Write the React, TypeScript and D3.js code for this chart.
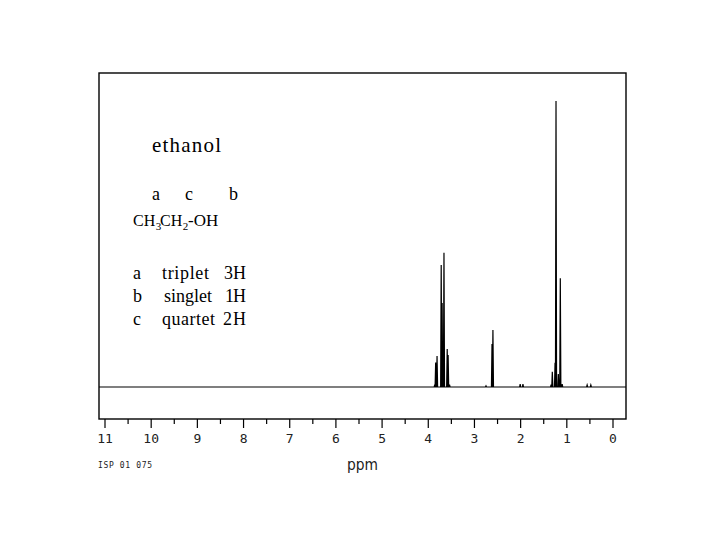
import React from "react";
import * as d3 from "d3";

// Spectrum lines: chemical shift (ppm) and relative intensity (tallest = 100)
const peakPpm = [3.86, 3.84, 3.81, 3.72, 3.70, 3.66, 3.59, 3.57, 3.54, 2.75, 2.62, 2.60, 2.01, 1.95, 1.34, 1.314, 1.255, 1.234, 1.184, 1.141, 1.10, 0.56, 0.48];
const peakHeight = [0.8, 8.6, 10.8, 42.7, 29.4, 46.9, 13.3, 11.2, 0.8, 0.4, 15.0, 19.9, 1.0, 1.0, 0.8, 5.3, 8.5, 100, 4.5, 38, 1.0, 0.7, 0.7];
const majorTicks = [11, 10, 9, 8, 7, 6, 5, 4, 3, 2, 1, 0];
const minorTicks = [10.5, 9.5, 8.5, 7.5, 6.5, 5.5, 4.5, 3.5, 2.5, 1.5, 0.5];
const ppmRange = [11.13, -0.28];
const formulaLetters = ["a", "c", "b"];
const assignLetters = ["a", "b", "c"];
const assignMult = ["triplet", "singlet", "quartet"];
const assignH = ["3H", "1H", "2H"];

export default function App() {
  const W = 720, H = 540;
  const left = 99, right = 626, top = 73, bottom = 419;
  const x = d3.scaleLinear().domain([11, 0]).range([105, 613]);
  const y = d3.scaleLinear().domain([0, 100]).range([387, 101]);
  const hw = 0.012;
  const pts: [number, number][] = [[ppmRange[0], 0]];
  peakPpm.forEach((p, i) => {
    pts.push([p + hw, 0], [p, peakHeight[i]], [p - hw, 0]);
  });
  pts.push([ppmRange[1], 0]);
  const line = d3.line<[number, number]>().x(d => x(d[0])).y(d => y(d[1]));
  const serif = "'Liberation Serif', 'Times New Roman', serif";
  const axisFont = "'DejaVu Sans Mono', monospace";
  const rowY = [279, 302, 325];
  const multX = [162, 164, 162];
  const multW = [47, 48, 53];
  const hX = [224, 225, 223];
  const hW = [22, 21, 23];
  const fs = 18;
  return (
    <svg width={W} height={H} style={{ position: "absolute", left: 0, top: 0, background: "#fff" }}>
      <rect x={left} y={top} width={right - left} height={bottom - top} fill="none" stroke="#000" strokeWidth={1.4} />
      <path d={line(pts) || ""} fill="none" stroke="#000" strokeWidth={1.2} />
      {majorTicks.map(t => (
        <g key={"M" + t}>
          <line x1={x(t)} x2={x(t)} y1={bottom} y2={428} stroke="#000" strokeWidth={1.2} />
          <text x={x(t)} y={443} fontFamily={axisFont} fontSize={13} textAnchor="middle" fill="#222">{t}</text>
        </g>
      ))}
      {minorTicks.map(t => (
        <line key={"m" + t} x1={x(t)} x2={x(t)} y1={bottom} y2={424} stroke="#000" strokeWidth={1.2} />
      ))}
      <text x={347} y={470} fontFamily="'DejaVu Sans', sans-serif" fontSize={15} textLength={31} lengthAdjust="spacingAndGlyphs" fill="#222">ppm</text>
      <text x={98} y={468} fontFamily={axisFont} fontSize={8} textLength={54} lengthAdjust="spacing" fill="#222">ISP 01 075</text>
      <text x={152} y={152} fontFamily={serif} fontSize={21} textLength={69} lengthAdjust="spacing">ethanol</text>
      {formulaLetters.map((l, i) => (
        <text key={"f" + i} x={[152, 185, 229][i]} y={200} fontFamily={serif} fontSize={fs}>{l}</text>
      ))}
      <g fontFamily={serif} fontSize={16}>
        <text x={133} y={226}>CH</text>
        <text x={155.8} y={230} fontSize={11}>3</text>
        <text x={160} y={226}>CH</text>
        <text x={182.8} y={230} fontSize={11}>2</text>
        <text x={188} y={226} fontSize={17}>-OH</text>
      </g>
      {assignLetters.map((l, i) => (
        <g key={"r" + i} fontFamily={serif} fontSize={fs}>
          <text x={133} y={rowY[i]}>{l}</text>
          <text x={multX[i]} y={rowY[i]} textLength={multW[i]} lengthAdjust="spacing">{assignMult[i]}</text>
          <text x={hX[i]} y={rowY[i]} textLength={hW[i]} lengthAdjust="spacing">{assignH[i]}</text>
        </g>
      ))}
    </svg>
  );
}
